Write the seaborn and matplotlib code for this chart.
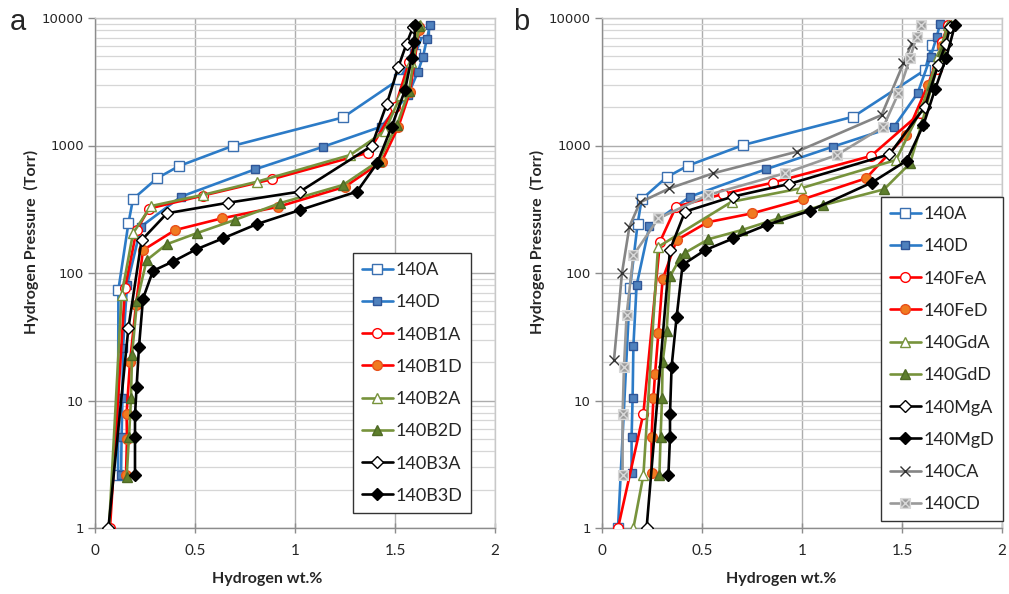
import numpy as np
import pandas as pd
import matplotlib
matplotlib.use("Agg")
import matplotlib.pyplot as plt
from matplotlib.path import Path
from matplotlib.ticker import FixedLocator, FixedFormatter, LogLocator, NullFormatter
import seaborn as sns

# ---------------- data: panel a ----------------
a_140A_wt = [0.115, 0.117, 0.167, 0.19, 0.31, 0.42, 0.69, 1.24, 1.52, 1.60, 1.645]
a_140A_p = [2.6, 74, 245, 380, 553, 690, 995, 1660, 3300, 5200, 7800]
a_140D_wt = [0.13, 0.133, 0.137, 0.14, 0.16, 0.23, 0.43, 0.80, 1.14, 1.43, 1.565, 1.615, 1.64, 1.66, 1.675]
a_140D_p = [2.6, 5.2, 10.4, 26, 80, 231, 397, 650, 977, 1403, 2490, 3800, 4970, 6900, 8800]
a_140B1A_wt = [0.075, 0.15, 0.208, 0.27, 0.54, 0.883, 1.367, 1.50, 1.57, 1.62]
a_140B1A_p = [1, 76, 217, 320, 405, 543, 879, 2000, 4500, 8500]
a_140B1D_wt = [0.155, 0.16, 0.158, 0.175, 0.205, 0.24, 0.40, 0.633, 0.917, 1.25, 1.433, 1.517, 1.575, 1.62]
a_140B1D_p = [2.6, 5.0, 7.9, 20, 56, 151, 217, 268, 331, 475, 746, 1403, 2640, 8000]
a_140B2A_wt = [0.07, 0.133, 0.19, 0.28, 0.54, 0.81, 1.275, 1.45, 1.53, 1.58, 1.625]
a_140B2A_p = [1, 67, 205, 335, 410, 520, 841, 1300, 2500, 4500, 8800]
a_140B2D_wt = [0.158, 0.17, 0.18, 0.185, 0.21, 0.258, 0.358, 0.508, 0.70, 0.925, 1.24, 1.42, 1.51, 1.57, 1.62]
a_140B2D_p = [2.5, 5.2, 10.4, 22.7, 60, 126, 168, 205, 261, 353, 490, 760, 1450, 2700, 8600]
a_140B3A_wt = [0.067, 0.167, 0.233, 0.36, 0.667, 1.025, 1.383, 1.458, 1.517, 1.558, 1.59]
a_140B3A_p = [1, 37, 181, 294, 356, 435, 990, 2100, 4150, 6300, 8500]
a_140B3D_wt = [0.20, 0.20, 0.20, 0.208, 0.22, 0.24, 0.29, 0.39, 0.505, 0.64, 0.81, 1.025, 1.31, 1.41,
               1.483, 1.55, 1.583, 1.597, 1.60]
a_140B3D_p = [2.6, 5.2, 7.7, 12.8, 26.4, 63, 104, 123, 153, 187, 242, 312, 435, 724, 1400, 2720, 4830,
              6500, 8800]

# ---------------- data: panel b ----------------
b_140A_wt = [0.08, 0.14, 0.178, 0.198, 0.323, 0.43, 0.707, 1.257, 1.615, 1.65]
b_140A_p = [1, 76, 242, 378, 564, 695, 1010, 1683, 3910, 6150]
b_140D_wt = [0.148, 0.148, 0.153, 0.157, 0.173, 0.237, 0.44, 0.818, 1.153, 1.46, 1.578, 1.643, 1.673, 1.69]
b_140D_p = [2.7, 5.2, 10.4, 26.9, 80, 234, 397, 650, 977, 1403, 2570, 4970, 7050, 8980]
b_140FeA_wt = [0.08, 0.207, 0.29, 0.37, 0.607, 0.853, 1.345, 1.59, 1.673, 1.70, 1.73]
b_140FeA_p = [1, 7.9, 176, 331, 417, 511, 828, 1790, 4000, 6500, 8800]
b_140FeD_wt = [0.248, 0.248, 0.257, 0.265, 0.282, 0.303, 0.373, 0.527, 0.752, 1.003, 1.32, 1.52, 1.63, 1.70, 1.74]
b_140FeD_p = [2.7, 5.2, 10.4, 16, 34, 89, 181, 250, 294, 378, 553, 1200, 3000, 6000, 8500]
b_140GdA_wt = [0.157, 0.207, 0.28, 0.648, 0.993, 1.47, 1.60, 1.68, 1.73]
b_140GdA_p = [1, 2.6, 160, 362, 461, 770, 2000, 5000, 8800]
b_140GdD_wt = [0.287, 0.293, 0.30, 0.303, 0.323, 0.34, 0.39, 0.415, 0.532, 0.698, 0.882, 1.107, 1.41,
               1.54, 1.60, 1.65, 1.70, 1.745]
b_140GdD_p = [2.6, 5.2, 10.4, 20, 35, 94, 130, 144, 184, 217, 268, 341, 453, 724, 1500, 3000, 5500, 8800]
b_140MgA_wt = [0.223, 0.34, 0.415, 0.653, 0.935, 1.437, 1.615, 1.68, 1.72, 1.74]
b_140MgA_p = [1, 152, 303, 397, 499, 853, 2014, 4275, 6300, 8500]
b_140MgD_wt = [0.332, 0.34, 0.34, 0.348, 0.373, 0.403, 0.515, 0.657, 0.823, 1.04, 1.348, 1.523, 1.607,
               1.665, 1.72, 1.765]
b_140MgD_p = [2.6, 5.2, 7.9, 18.4, 45, 116, 151, 187, 238, 308, 511, 760, 1449, 2750, 4830, 8800]
b_140CA_wt = [0.06, 0.10, 0.137, 0.19, 0.337, 0.557, 0.973, 1.398, 1.507, 1.548]
b_140CA_p = [20.8, 100, 231, 358, 461, 606, 893, 1733, 4400, 6300]
b_140CD_wt = [0.103, 0.103, 0.11, 0.123, 0.157, 0.282, 0.532, 0.915, 1.173, 1.407, 1.482, 1.54, 1.573, 1.595]
b_140CD_p = [2.6, 7.8, 18.4, 46.8, 138, 268, 410, 606, 841, 1403, 2570, 4830, 7140, 8800]

x_ticks = [0, 0.5, 1, 1.5, 2]
x_tick_labels = ["0", "0.5", "1", "1.5", "2"]
y_ticks = [1, 10, 100, 1000, 10000]
y_tick_labels = ["1", "10", "100", "1000", "10000"]

# ---------------- styles ----------------
BLUE = "#2C7BC7"
RED = "#FF0000"
GREEN = "#77933C"
BLACK = "#000000"
GRAY = "#858585"

box_x = Path(
    [(-1, -1), (1, -1), (1, 1), (-1, 1), (-1, -1), (-1, -1), (1, 1), (1, -1), (-1, 1)],
    [Path.MOVETO, Path.LINETO, Path.LINETO, Path.LINETO, Path.CLOSEPOLY,
     Path.MOVETO, Path.LINETO, Path.MOVETO, Path.LINETO],
)

sty = {
    "A_open_sq": dict(color=BLUE, marker="s", markersize=6.5, markerfacecolor="white", markeredgecolor="#3A6FB0"),
    "D_fill_sq": dict(color=BLUE, marker="s", markersize=6.0, markerfacecolor="#4F81BD", markeredgecolor="#2F5597"),
    "R_open": dict(color=RED, marker="o", markersize=7, markerfacecolor="white", markeredgecolor=RED),
    "R_fill": dict(color=RED, marker="o", markersize=7, markerfacecolor="#F07A20", markeredgecolor="#E8501A"),
    "G_open": dict(color=GREEN, marker="^", markersize=7.5, markerfacecolor="white", markeredgecolor=GREEN),
    "G_fill": dict(color=GREEN, marker="^", markersize=7.5, markerfacecolor="#5E7F2C", markeredgecolor="#4F6A25"),
    "K_open": dict(color=BLACK, marker="D", markersize=6.5, markerfacecolor="white", markeredgecolor=BLACK),
    "K_fill": dict(color=BLACK, marker="D", markersize=6.5, markerfacecolor=BLACK, markeredgecolor=BLACK),
    "C_x": dict(color=GRAY, marker="x", markersize=7, markerfacecolor=GRAY, markeredgecolor="#333333"),
    "C_box": dict(color="#999999", marker=box_x, markersize=7, markerfacecolor="#9C9C9C", markeredgecolor="#D8D8D8"),
}

series_a = [
    ("140A", a_140A_wt, a_140A_p, "A_open_sq"),
    ("140D", a_140D_wt, a_140D_p, "D_fill_sq"),
    ("140B1A", a_140B1A_wt, a_140B1A_p, "R_open"),
    ("140B1D", a_140B1D_wt, a_140B1D_p, "R_fill"),
    ("140B2A", a_140B2A_wt, a_140B2A_p, "G_open"),
    ("140B2D", a_140B2D_wt, a_140B2D_p, "G_fill"),
    ("140B3A", a_140B3A_wt, a_140B3A_p, "K_open"),
    ("140B3D", a_140B3D_wt, a_140B3D_p, "K_fill"),
]
series_b = [
    ("140A", b_140A_wt, b_140A_p, "A_open_sq"),
    ("140D", b_140D_wt, b_140D_p, "D_fill_sq"),
    ("140FeA", b_140FeA_wt, b_140FeA_p, "R_open"),
    ("140FeD", b_140FeD_wt, b_140FeD_p, "R_fill"),
    ("140GdA", b_140GdA_wt, b_140GdA_p, "G_open"),
    ("140GdD", b_140GdD_wt, b_140GdD_p, "G_fill"),
    ("140MgA", b_140MgA_wt, b_140MgA_p, "K_open"),
    ("140MgD", b_140MgD_wt, b_140MgD_p, "K_fill"),
    ("140CA", b_140CA_wt, b_140CA_p, "C_x"),
    ("140CD", b_140CD_wt, b_140CD_p, "C_box"),
]

sns.set_theme(style="white")
plt.rcParams["font.family"] = ["DejaVu Sans"]

W, H = 1009, 594
fig = plt.figure(figsize=(W / 100, H / 100), dpi=100)
fig.patch.set_facecolor("white")


def px_axes(left, top, right, bottom):
    return fig.add_axes([left / W, 1 - bottom / H, (right - left) / W, (bottom - top) / H])


ax_a = px_axes(95, 18, 495, 528)
ax_b = px_axes(602, 18, 1002, 528)


def draw(ax, series, leg_anchor):
    for name, xs, ys, st in series:
        df = pd.DataFrame({"wt": xs, "p": ys})
        sns.lineplot(data=df, x="wt", y="p", ax=ax, sort=False, estimator=None,
                     linewidth=1.9, markeredgewidth=1.0, label=name, zorder=3, **sty[st])
    ax.set_yscale("log")
    ax.set_xlim(0, 2)
    ax.set_ylim(1, 10000)
    ax.xaxis.set_major_locator(FixedLocator(x_ticks))
    ax.xaxis.set_major_formatter(FixedFormatter(x_tick_labels))
    ax.yaxis.set_major_locator(FixedLocator(y_ticks))
    ax.yaxis.set_major_formatter(FixedFormatter(y_tick_labels))
    ax.yaxis.set_minor_locator(LogLocator(base=10, subs=np.arange(2, 10)))
    ax.yaxis.set_minor_formatter(NullFormatter())
    ax.grid(True, which="major", axis="both", color="#ADADAD", linewidth=1.0, zorder=0)
    ax.grid(True, which="minor", axis="y", color="#D6D6D6", linewidth=0.9, zorder=0)
    ax.set_axisbelow(True)
    ax.set_xlabel("")
    ax.set_ylabel("")
    for s in ["left", "bottom"]:
        ax.spines[s].set_color("#8C8C8C")
        ax.spines[s].set_linewidth(1.0)
    for s in ["top", "right"]:
        ax.spines[s].set_color("#C8C8C8")
        ax.spines[s].set_linewidth(1.0)
    ax.tick_params(axis="x", which="major", direction="inout", length=7, width=1, color="#8C8C8C",
                   labelsize=11, pad=8, bottom=True)
    ax.tick_params(axis="y", which="major", direction="out", length=5, width=1, color="#8C8C8C",
                   labelsize=9.5, pad=3, left=True)
    ax.tick_params(axis="y", which="minor", left=False)
    for lab in ax.get_xticklabels():
        lab.set_fontfamily("Lato")
    leg = ax.legend(loc="upper left", bbox_to_anchor=leg_anchor, frameon=True, fancybox=False,
                    edgecolor="#333333", framealpha=1, prop={"family": "Lato", "size": 13},
                    handlelength=1.7, handletextpad=0.15, labelspacing=0.9, borderpad=0.5,
                    borderaxespad=0)
    leg.get_frame().set_linewidth(1.0)
    leg.set_zorder(10)


draw(ax_a, series_a, ((353 - 95) / 400, (528 - 253) / 510))
draw(ax_b, series_b, ((881 - 602) / 400, (528 - 197) / 510))

# axis titles and panel letters
for cx in (267, 781):
    fig.text(cx / W, 1 - 579 / H, "Hydrogen wt.%", ha="center", va="center",
             fontsize=11.5, fontweight="bold", family="Lato")
for cx in (31, 537):
    fig.text(cx / W, 1 - 242 / H, "Hydrogen Pressure  (Torr)", ha="center", va="center",
             rotation=90, fontsize=11.5, fontweight="bold", family="Lato")
fig.text(10 / W, 1 - 22 / H, "a", ha="left", va="center", fontsize=21, family="Liberation Sans")
fig.text(513 / W, 1 - 22 / H, "b", ha="left", va="center", fontsize=21, family="Liberation Sans")

fig.savefig("out.png", dpi=100, facecolor="white")
